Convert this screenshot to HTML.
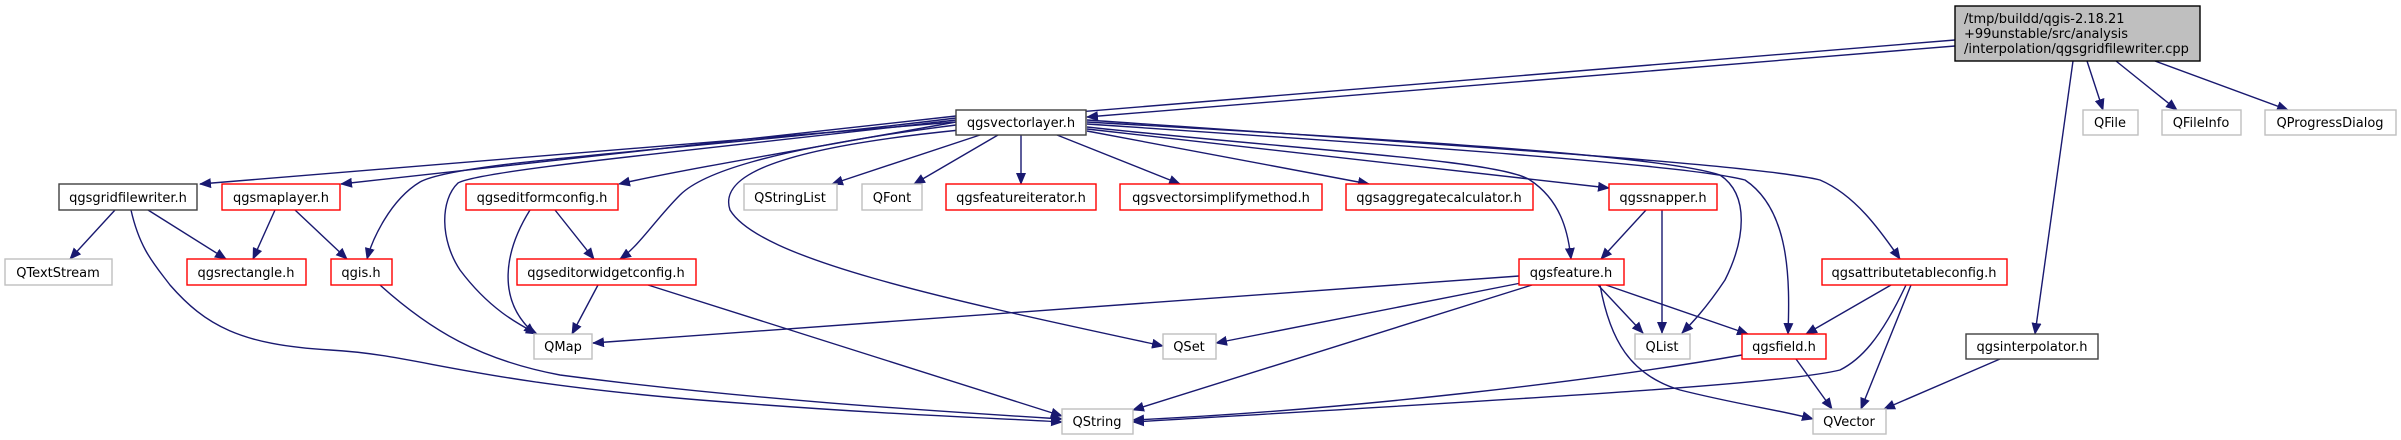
<!DOCTYPE html>
<html><head><meta charset="utf-8"><style>
html,body{margin:0;padding:0;background:#fff;}
svg{display:block}
text{font-family:"DejaVu Sans","Liberation Sans",sans-serif;font-size:13px;fill:#000;}
.e{fill:none;stroke:#191970;stroke-width:1.4}
.r{fill:#fff;stroke:#ff0000;stroke-width:1.4}
.g{fill:#fff;stroke:#bfbfbf;stroke-width:1.4}
.b{fill:#fff;stroke:#404040;stroke-width:1.4}
</style></head><body>
<svg width="2401" height="440" viewBox="0 0 2401 440" xmlns="http://www.w3.org/2000/svg">
<defs><marker id="a" markerWidth="12" markerHeight="10" refX="11" refY="5" orient="auto" markerUnits="userSpaceOnUse"><path d="M0,0 L12,5 L0,10 z" fill="#191970"/></marker></defs>
<g class="e" marker-end="url(#a)">
<!-- from top -->
<path d="M1955,40 L200,184"/>
<path d="M1955,46 L1087,117"/>
<path d="M2087,61 L2103,110"/>
<path d="M2116,61 L2177,110"/>
<path d="M2155,61 L2288,110"/>
<path d="M2073,61 L2035,334"/>
<!-- from qgsvectorlayer -->
<path d="M956,116 L341,184"/>
<path d="M956,118 C700,150 460,160 420,182 C390,200 372,240 367,259"/>
<path d="M956,120 C700,150 480,170 458,183 C440,200 440,240 460,270 C490,310 520,325 537,334"/>
<path d="M956,122 C800,150 680,170 619,184"/>
<path d="M956,125 C760,150 700,175 680,195 C655,220 640,245 620,259"/>
<path d="M960,130 C760,150 720,180 730,210 C760,260 950,300 1163,346"/>
<path d="M980,135 L832,184"/>
<path d="M998,135 L914,184"/>
<path d="M1021,135 L1021,184"/>
<path d="M1057,135 L1180,184"/>
<path d="M1087,131 L1369,184"/>
<path d="M1087,127 C1300,150 1500,160 1530,180 C1560,200 1568,230 1571,259"/>
<path d="M1087,129 L1609,188"/>
<path d="M1087,122 C1400,140 1660,155 1720,175 C1750,195 1745,240 1725,280 C1705,310 1690,325 1682,333"/>
<path d="M1087,124 C1400,145 1690,165 1745,180 C1790,210 1790,280 1788,334"/>
<path d="M1087,120 C1450,145 1760,165 1820,180 C1855,195 1880,230 1900,259"/>
<!-- gridfilewriter -->
<path d="M115,210 L70,259"/>
<path d="M148,210 L226,259"/>
<path d="M131,210 C140,250 155,265 170,285 C205,325 240,345 330,350 C420,355 460,380 700,400 C900,416 1000,418 1062,422"/>
<!-- maplayer -->
<path d="M275,210 L253,259"/>
<path d="M295,210 L347,259"/>
<!-- qgis -->
<path d="M380,285 C430,330 480,360 560,375 C750,400 950,412 1062,419"/>
<!-- editformconfig -->
<path d="M530,210 C505,250 495,300 535,334"/>
<path d="M555,210 L594,259"/>
<!-- editorwidget -->
<path d="M598,285 L572,334"/>
<path d="M648,285 L1062,416"/>
<!-- qgsfeature -->
<path d="M1519,276 L593,343"/>
<path d="M1521,283 L1216,343"/>
<path d="M1532,285 L1133,410"/>
<path d="M1598,285 L1643,333"/>
<path d="M1606,285 L1748,334"/>
<path d="M1600,285 C1610,340 1630,375 1680,390 C1740,405 1780,410 1813,419"/>
<!-- snapper -->
<path d="M1646,210 L1601,259"/>
<path d="M1662,210 L1662,333"/>
<!-- attributetableconfig -->
<path d="M1891,285 L1806,334"/>
<path d="M1906,285 C1880,340 1860,360 1840,370 C1780,385 1500,400 1133,422"/>
<path d="M1911,285 L1861,409"/>
<!-- qgsfield -->
<path d="M1742,355 C1600,380 1350,410 1133,420"/>
<path d="M1796,359 L1832,409"/>
<!-- interpolator -->
<path d="M2000,359 L1884,409"/>
</g>
<!-- nodes -->
<rect x="1955" y="6" width="245" height="55" fill="#bfbfbf" stroke="#000" stroke-width="1.4"/>
<text x="1964" y="23">/tmp/buildd/qgis-2.18.21</text>
<text x="1964" y="38">+99unstable/src/analysis</text>
<text x="1964" y="53">/interpolation/qgsgridfilewriter.cpp</text>

<rect class="b" x="956" y="110" width="130" height="25"/><text x="1021" y="127" text-anchor="middle">qgsvectorlayer.h</text>
<rect class="g" x="2083" y="110" width="55" height="25"/><text x="2110" y="127" text-anchor="middle">QFile</text>
<rect class="g" x="2162" y="110" width="79" height="25"/><text x="2201" y="127" text-anchor="middle">QFileInfo</text>
<rect class="g" x="2265" y="110" width="131" height="25"/><text x="2330" y="127" text-anchor="middle">QProgressDialog</text>

<rect class="b" x="59" y="184" width="138" height="26"/><text x="128" y="202" text-anchor="middle">qgsgridfilewriter.h</text>
<rect class="r" x="222" y="184" width="118" height="26"/><text x="281" y="202" text-anchor="middle">qgsmaplayer.h</text>
<rect class="r" x="466" y="184" width="152" height="26"/><text x="542" y="202" text-anchor="middle">qgseditformconfig.h</text>
<rect class="g" x="744" y="184" width="93" height="26"/><text x="790" y="202" text-anchor="middle">QStringList</text>
<rect class="g" x="862" y="184" width="60" height="26"/><text x="892" y="202" text-anchor="middle">QFont</text>
<rect class="r" x="946" y="184" width="150" height="26"/><text x="1021" y="202" text-anchor="middle">qgsfeatureiterator.h</text>
<rect class="r" x="1120" y="184" width="202" height="26"/><text x="1221" y="202" text-anchor="middle">qgsvectorsimplifymethod.h</text>
<rect class="r" x="1346" y="184" width="187" height="26"/><text x="1439" y="202" text-anchor="middle">qgsaggregatecalculator.h</text>
<rect class="r" x="1609" y="184" width="108" height="26"/><text x="1663" y="202" text-anchor="middle">qgssnapper.h</text>

<rect class="g" x="5" y="259" width="107" height="26"/><text x="58" y="277" text-anchor="middle">QTextStream</text>
<rect class="r" x="187" y="259" width="119" height="26"/><text x="246" y="277" text-anchor="middle">qgsrectangle.h</text>
<rect class="r" x="331" y="259" width="61" height="26"/><text x="361" y="277" text-anchor="middle">qgis.h</text>
<rect class="r" x="517" y="259" width="179" height="26"/><text x="606" y="277" text-anchor="middle">qgseditorwidgetconfig.h</text>
<rect class="r" x="1519" y="259" width="105" height="26"/><text x="1571" y="277" text-anchor="middle">qgsfeature.h</text>
<rect class="r" x="1822" y="259" width="185" height="26"/><text x="1914" y="277" text-anchor="middle">qgsattributetableconfig.h</text>

<rect class="g" x="534" y="334" width="58" height="25"/><text x="563" y="351" text-anchor="middle">QMap</text>
<rect class="g" x="1163" y="334" width="53" height="25"/><text x="1189" y="351" text-anchor="middle">QSet</text>
<rect class="g" x="1635" y="334" width="55" height="25"/><text x="1662" y="351" text-anchor="middle">QList</text>
<rect class="r" x="1742" y="334" width="84" height="25"/><text x="1784" y="351" text-anchor="middle">qgsfield.h</text>
<rect class="b" x="1966" y="334" width="132" height="25"/><text x="2032" y="351" text-anchor="middle">qgsinterpolator.h</text>

<rect class="g" x="1062" y="409" width="71" height="25"/><text x="1097" y="426" text-anchor="middle">QString</text>
<rect class="g" x="1813" y="409" width="73" height="25"/><text x="1849" y="426" text-anchor="middle">QVector</text>
</svg>
</body></html>
